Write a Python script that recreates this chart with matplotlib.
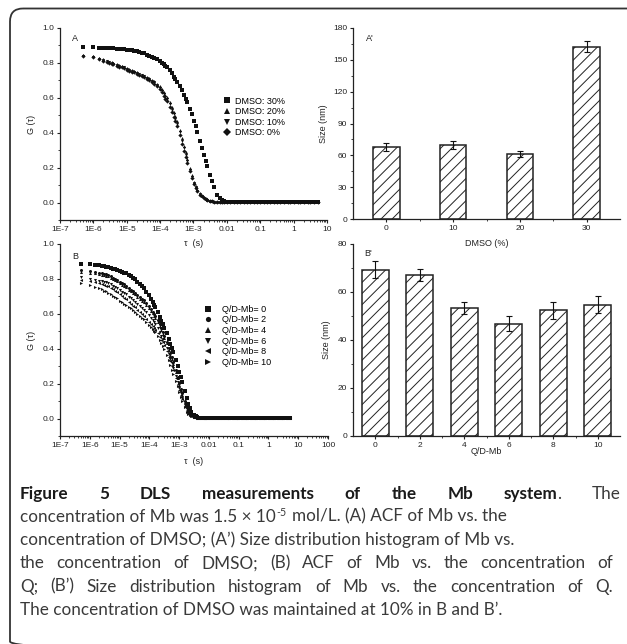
import matplotlib
matplotlib.use("Agg")
import matplotlib.pyplot as plt
from matplotlib.patches import FancyBboxPatch
from matplotlib.ticker import LogLocator, MultipleLocator, NullFormatter

# ==========================
# 1. Data
# ==========================
# correlator lag times (microseconds), shared by all ACF curves
tau_head_us = [0.5, 1, 1.5, 2, 2.5, 3, 3.5, 4, 5, 6, 7, 8,
               10, 12, 14, 16, 20, 24, 28, 32, 40, 48, 56, 64, 80,
               96, 112, 128, 144, 160, 192, 224, 256, 288, 320, 384, 448, 512, 576, 640,
               768, 896, 1024, 1152, 1280, 1536, 1792, 2048, 2304, 2560, 3072, 3584, 4096,
               5120, 6144, 7168, 8192]
tau_tail_us = [10240, 12288, 16384, 20480, 24576, 32768, 40960, 49152, 65536, 81920,
               98304, 131072, 163840, 196608, 262144, 327680, 393216, 524288, 655360,
               786432, 1048576, 1310720, 1572864, 2097152, 2621440, 3145728, 4194304, 5242880]

# baseline after decay (panel A / panel B)
tail_a = [0.004, 0.003, 0.004, 0.002, 0.003, 0.004, 0.002, 0.003, 0.002, 0.003, 0.004, 0.002,
          0.001, 0.003, 0.002, 0.003, 0.002, 0.001, 0.003, 0.002, 0.001, 0.002, 0.003, 0.001,
          0.002, 0.001, 0.002, 0.001]
tail_b = [0.003, 0.004, 0.002, 0.003, 0.004, 0.003, 0.002, 0.004, 0.003, 0.002, 0.003, 0.004,
          0.002, 0.003, 0.002, 0.001, 0.003, 0.002, 0.003, 0.001, 0.002, 0.003, 0.002, 0.001,
          0.002, 0.002, 0.001, 0.002]

# panel A: ACF vs DMSO
g_dmso30 = [0.893, 0.890, 0.888, 0.887, 0.886, 0.885, 0.884, 0.883, 0.881, 0.880, 0.879, 0.878,
            0.876, 0.874, 0.872, 0.870, 0.866, 0.862, 0.858, 0.854, 0.848, 0.842, 0.836, 0.830, 0.820,
            0.810, 0.800, 0.792, 0.784, 0.776, 0.758, 0.740, 0.722, 0.706, 0.692, 0.668, 0.642, 0.618, 0.596, 0.574,
            0.538, 0.505, 0.470, 0.437, 0.402, 0.350, 0.312, 0.272, 0.240, 0.210, 0.160, 0.122, 0.088,
            0.045, 0.024, 0.014, 0.010]
g_dmso20 = [0.845, 0.839, 0.828, 0.820, 0.813, 0.808, 0.804, 0.800, 0.793, 0.787, 0.782, 0.778,
            0.770, 0.764, 0.758, 0.754, 0.746, 0.739, 0.733, 0.727, 0.719, 0.711, 0.703, 0.695, 0.682,
            0.666, 0.650, 0.632, 0.616, 0.602, 0.574, 0.546, 0.518, 0.494, 0.466, 0.418, 0.367, 0.323, 0.287, 0.252,
            0.198, 0.158, 0.120, 0.094, 0.073, 0.052, 0.040, 0.030, 0.022, 0.016, 0.010, 0.007, 0.005,
            0.004, 0.004, 0.003, 0.003]
g_dmso10 = [0.842, 0.835, 0.824, 0.816, 0.809, 0.804, 0.800, 0.796, 0.789, 0.783, 0.778, 0.774,
            0.766, 0.760, 0.754, 0.750, 0.742, 0.735, 0.729, 0.723, 0.714, 0.706, 0.697, 0.689, 0.675,
            0.658, 0.641, 0.622, 0.606, 0.591, 0.562, 0.533, 0.505, 0.480, 0.452, 0.404, 0.353, 0.310, 0.275, 0.240,
            0.188, 0.149, 0.113, 0.088, 0.069, 0.049, 0.038, 0.028, 0.020, 0.015, 0.009, 0.006, 0.005,
            0.004, 0.003, 0.003, 0.003]
g_dmso0 = [0.838, 0.831, 0.820, 0.812, 0.805, 0.800, 0.796, 0.792, 0.785, 0.779, 0.774, 0.770,
           0.762, 0.756, 0.750, 0.746, 0.738, 0.731, 0.725, 0.719, 0.709, 0.700, 0.691, 0.682, 0.667,
           0.649, 0.631, 0.611, 0.594, 0.579, 0.549, 0.519, 0.490, 0.465, 0.437, 0.388, 0.338, 0.296, 0.262, 0.228,
           0.178, 0.140, 0.106, 0.083, 0.065, 0.046, 0.035, 0.026, 0.019, 0.014, 0.008, 0.006, 0.005,
           0.004, 0.003, 0.003, 0.003]

# panel B: ACF vs Q/D-Mb
g_q0 = [0.888, 0.884, 0.881, 0.878, 0.875, 0.872, 0.869, 0.867, 0.863, 0.859, 0.855, 0.852,
        0.847, 0.841, 0.836, 0.831, 0.822, 0.814, 0.805, 0.797, 0.783, 0.770, 0.757, 0.746, 0.727,
        0.706, 0.686, 0.668, 0.653, 0.640, 0.610, 0.584, 0.561, 0.540, 0.518, 0.488, 0.456, 0.428, 0.404, 0.382,
        0.336, 0.300, 0.265, 0.236, 0.208, 0.158, 0.118, 0.082, 0.058, 0.037, 0.020, 0.012, 0.009,
        0.005, 0.004, 0.004, 0.003]
g_q2 = [0.852, 0.846, 0.840, 0.836, 0.832, 0.829, 0.826, 0.823, 0.815, 0.808, 0.801, 0.796,
        0.785, 0.776, 0.768, 0.762, 0.749, 0.739, 0.729, 0.721, 0.708, 0.697, 0.686, 0.677, 0.662,
        0.644, 0.628, 0.613, 0.599, 0.588, 0.564, 0.540, 0.516, 0.495, 0.474, 0.440, 0.405, 0.375, 0.350, 0.323,
        0.276, 0.240, 0.202, 0.172, 0.144, 0.100, 0.070, 0.046, 0.030, 0.020, 0.011, 0.008, 0.006,
        0.004, 0.004, 0.003, 0.003]
g_q4 = [0.838, 0.836, 0.831, 0.827, 0.823, 0.820, 0.817, 0.814, 0.805, 0.798, 0.791, 0.786,
        0.775, 0.766, 0.758, 0.752, 0.739, 0.729, 0.719, 0.711, 0.698, 0.687, 0.676, 0.667, 0.652,
        0.634, 0.618, 0.603, 0.589, 0.578, 0.554, 0.530, 0.506, 0.485, 0.464, 0.430, 0.395, 0.365, 0.340, 0.313,
        0.266, 0.230, 0.193, 0.164, 0.137, 0.095, 0.065, 0.043, 0.028, 0.018, 0.010, 0.007, 0.005,
        0.004, 0.004, 0.003, 0.003]
g_q6 = [0.812, 0.800, 0.794, 0.790, 0.786, 0.783, 0.780, 0.777, 0.770, 0.762, 0.754, 0.748,
        0.736, 0.726, 0.718, 0.712, 0.699, 0.688, 0.678, 0.670, 0.657, 0.645, 0.633, 0.623, 0.608,
        0.592, 0.577, 0.565, 0.552, 0.541, 0.518, 0.496, 0.475, 0.457, 0.440, 0.407, 0.372, 0.343, 0.317, 0.289,
        0.243, 0.208, 0.173, 0.145, 0.118, 0.080, 0.052, 0.036, 0.024, 0.016, 0.009, 0.006, 0.005,
        0.004, 0.003, 0.003, 0.003]
g_q8 = [0.795, 0.786, 0.780, 0.775, 0.770, 0.766, 0.762, 0.758, 0.750, 0.741, 0.732, 0.725,
        0.711, 0.700, 0.690, 0.683, 0.669, 0.657, 0.646, 0.638, 0.624, 0.611, 0.598, 0.586, 0.569,
        0.554, 0.540, 0.528, 0.517, 0.508, 0.488, 0.469, 0.452, 0.436, 0.420, 0.388, 0.355, 0.327, 0.302, 0.276,
        0.232, 0.198, 0.163, 0.136, 0.110, 0.074, 0.047, 0.032, 0.021, 0.014, 0.008, 0.006, 0.005,
        0.004, 0.003, 0.003, 0.003]
g_q10 = [0.776, 0.766, 0.755, 0.748, 0.740, 0.733, 0.728, 0.722, 0.712, 0.703, 0.694, 0.688,
         0.676, 0.667, 0.659, 0.653, 0.641, 0.631, 0.621, 0.613, 0.601, 0.589, 0.578, 0.568, 0.552,
         0.538, 0.525, 0.514, 0.503, 0.493, 0.471, 0.450, 0.430, 0.413, 0.396, 0.366, 0.333, 0.305, 0.280, 0.255,
         0.215, 0.185, 0.152, 0.125, 0.100, 0.066, 0.040, 0.028, 0.019, 0.013, 0.008, 0.006, 0.004,
         0.004, 0.003, 0.003, 0.003]

# panel A': size vs DMSO
dmso_labels = ["0", "10", "20", "30"]
dmso_size = [68.0, 69.5, 61.5, 162.5]
dmso_err = [3.8, 3.8, 3.0, 5.0]

# panel B': size vs Q/D-Mb
qd_labels = ["0", "2", "4", "6", "8", "10"]
qd_size = [69.3, 67.0, 53.3, 46.7, 52.3, 54.7]
qd_err = [3.6, 2.6, 2.5, 3.1, 3.5, 3.5]

series_a = [("DMSO: 30%", g_dmso30, "s"), ("DMSO: 20%", g_dmso20, "^"),
            ("DMSO: 10%", g_dmso10, "v"), ("DMSO: 0%", g_dmso0, "D")]
series_b = [("Q/D-Mb= 0", g_q0, "s"), ("Q/D-Mb= 2", g_q2, "o"), ("Q/D-Mb= 4", g_q4, "^"),
            ("Q/D-Mb= 6", g_q6, "v"), ("Q/D-Mb= 8", g_q8, "<"), ("Q/D-Mb= 10", g_q10, ">")]

# ==========================
# 2. Figure setup
# ==========================
W, H = 627, 644
plt.rcParams['font.family'] = ['Liberation Sans', 'DejaVu Sans']
plt.rcParams['hatch.linewidth'] = 0.7
INK = '#222222'

fig = plt.figure(figsize=(W / 100, H / 100), dpi=100)


def px_box(l, t, r, b):
    return [l / W, 1 - b / H, (r - l) / W, (b - t) / H]


def style_axes(ax):
    ax.patch.set_visible(False)
    for s in ['top', 'right']:
        ax.spines[s].set_visible(False)
    for s in ['left', 'bottom']:
        ax.spines[s].set_linewidth(0.9)
        ax.spines[s].set_color(INK)
    ax.tick_params(which='major', direction='out', length=2.4, width=0.8, pad=1.6,
                   labelsize=6, colors=INK)
    ax.tick_params(which='minor', direction='out', length=1.3, width=0.6, colors=INK)


tau_s = [t * 1e-6 for t in tau_head_us + tau_tail_us]
dec_ticks = [1e-7, 1e-6, 1e-5, 1e-4, 1e-3, 1e-2, 1e-1, 1, 10, 100]
dec_labels = ["1E-7", "1E-6", "1E-5", "1E-4", "1E-3", "0.01", "0.1", "1", "10", "100"]


def acf_panel(ax, series, tail, xmax, legend_xy, textpad):
    for label, g, m in series:
        ax.plot(tau_s, g + tail, ls='none', marker=m, ms=2.2, mew=0, color='#111111', label=label)
    ax.set_xscale('log')
    ax.set_xlim(1e-7, xmax)
    ax.set_ylim(-0.1, 1.0)
    n = dec_ticks.index(xmax) + 1
    ax.set_xticks(dec_ticks[:n], dec_labels[:n])
    ax.xaxis.set_minor_locator(LogLocator(base=10, subs=range(2, 10), numticks=30))
    ax.xaxis.set_minor_formatter(NullFormatter())
    ax.yaxis.set_major_locator(MultipleLocator(0.2))
    ax.yaxis.set_minor_locator(MultipleLocator(0.1))
    ax.yaxis.set_major_formatter(lambda v, p: f"{v:.1f}")
    style_axes(ax)
    ax.set_ylabel("G (τ)", fontsize=6.5, color=INK)
    ax.set_xlabel("τ  (s)", fontsize=6.5, color=INK)
    ax.legend(loc='upper left', bbox_to_anchor=(legend_xy[0] / W, 1 - legend_xy[1] / H),
              bbox_transform=fig.transFigure, frameon=False, fontsize=6.5, borderpad=0,
              borderaxespad=0, handlelength=1.0, handletextpad=textpad, labelspacing=0.18,
              markerscale=1.7)


def size_panel(ax, labels, size, err, ymax, ystep, width):
    x = list(range(len(labels)))
    ax.bar(x, size, width=width, color='white', edgecolor=INK, linewidth=1.1, hatch='///', zorder=2)
    ax.errorbar(x, size, yerr=err, fmt='none', ecolor='#111111', elinewidth=0.8, capsize=2.5,
                capthick=0.8, zorder=3)
    ax.set_xlim(-0.5, len(labels) - 0.5)
    ax.set_ylim(0, ymax)
    ax.set_xticks(x, labels)
    ax.set_xticks([i + 0.5 for i in x[:-1]], minor=True)
    ax.yaxis.set_major_locator(MultipleLocator(ystep))
    ax.yaxis.set_minor_locator(MultipleLocator(ystep / 2))
    style_axes(ax)
    ax.set_ylabel("Size (nm)", fontsize=6.5, color=INK)


# ==========================
# 3. Panels
# ==========================
axA = fig.add_axes(px_box(60, 28, 327, 220))
acf_panel(axA, series_a, tail_a, 10, (222, 96.5), 0.42)
axA.xaxis.set_label_coords(0.5, -0.125)
axA.yaxis.set_label_coords(-0.105, 0.5)

axB = fig.add_axes(px_box(60, 244, 328, 436))
acf_panel(axB, series_b, tail_b, 100, (203.5, 304.8), 1.0)
axB.xaxis.set_label_coords(0.5, -0.134)
axB.yaxis.set_label_coords(-0.105, 0.5)

axA2 = fig.add_axes(px_box(353, 28, 620, 219))
size_panel(axA2, dmso_labels, dmso_size, dmso_err, 180, 30, 0.40)
axA2.set_xlabel("DMSO (%)", fontsize=6.5, color=INK)
axA2.xaxis.set_label_coords(0.5, -0.13)
axA2.yaxis.set_label_coords(-0.112, 0.5)

axB2 = fig.add_axes(px_box(353, 244, 620, 436))
size_panel(axB2, qd_labels, qd_size, qd_err, 80, 20, 0.61)
axB2.set_xlabel("Q/D-Mb", fontsize=6.5, color=INK)
axB2.xaxis.set_label_coords(0.5, -0.082)
axB2.yaxis.set_label_coords(-0.098, 0.5)

for ax in [axA, axB, axA2, axB2]:
    ax.xaxis.label.set_verticalalignment('center')
    ax.yaxis.label.set_verticalalignment('center')

# ==========================
# 4. Frame, panel letters and caption (pixel coordinates)
# ==========================
cap = fig.add_axes([0, 0, 1, 1], zorder=-1)
cap.set_xlim(0, W)
cap.set_ylim(H, 0)
cap.axis('off')

cap.add_patch(FancyBboxPatch((10, 8.5), 650, 646, boxstyle="round,pad=0,rounding_size=13",
                             facecolor='none', edgecolor='#333333', linewidth=1.3))

for lx, ly, s in [(72, 38, "A"), (366, 38, "A'"), (72, 256, "B"), (364, 253, "B'")]:
    cap.text(lx, ly, s, fontsize=6.5, color=INK, va='center', ha='left')

rend = fig.canvas.get_renderer()


def text_w(s, style):
    t = cap.text(0, 0, s, **style)
    w = t.get_window_extent(rend).width
    t.remove()
    return w


# caption font size chosen so that line 3 ends where it does in the original
CAP_FONT = 'Lato'
line3 = "concentration of DMSO; (A’) Size distribution histogram of Mb vs."
CAP_FS = 12.0 * 490 / text_w(line3, dict(fontsize=12.0, family=CAP_FONT))
BODY = dict(fontsize=CAP_FS, family=CAP_FONT, color='#3a3a3a')
BOLD = dict(fontsize=CAP_FS, family=CAP_FONT, weight='bold', color='#1a1a1a')
SUP = dict(BODY, fontsize=CAP_FS * 0.62)
space_w = text_w("a a", BODY) - text_w("aa", BODY)


def draw_justified(y, groups, right):
    # groups: words, each a list of (text, style) runs, spread between x=20 and 'right'
    widths = [sum(text_w(s, st) for s, st in g) for g in groups]
    gap = (right - 20 - sum(widths)) / (len(groups) - 1)
    x = 20
    for g, w in zip(groups, widths):
        xx = x
        for s, st in g:
            cap.text(xx, y, s, va='baseline', ha='left', **st)
            xx += text_w(s, st)
        x += w + gap


def words(line, style=BODY):
    return [[(w, style)] for w in line.split(" ")]


base1 = 498.5
step = 23.3
title = words("Figure 5 DLS measurements of the Mb", BOLD) + \
    [[("system", BOLD), (".", BODY)], [("The", BODY)]]
draw_justified(base1, title, 621)

# line 2 with the superscript exponent
pre = "concentration of Mb was 1.5 × 10"
cap.text(20, base1 + step, pre, va='baseline', ha='left', **BODY)
x = 20 + text_w(pre, BODY) + 0.8
cap.text(x, base1 + step - 5.5, "-5", va='baseline', ha='left', **SUP)
x += text_w("-5", SUP) + space_w + 0.5
cap.text(x, base1 + step, "mol/L. (A) ACF of Mb vs. the", va='baseline', ha='left', **BODY)

cap.text(20, base1 + 2 * step, line3, va='baseline', ha='left', **BODY)
draw_justified(base1 + 3 * step,
               words("the concentration of DMSO; (B) ACF of Mb vs. the concentration of"), 613)
draw_justified(base1 + 4 * step,
               words("Q; (B’) Size distribution histogram of Mb vs. the concentration of Q."), 613)
cap.text(20, base1 + 5 * step, "The concentration of DMSO was maintained at 10% in B and B’.",
         va='baseline', ha='left', **BODY)

fig.savefig("out.png", dpi=100)
